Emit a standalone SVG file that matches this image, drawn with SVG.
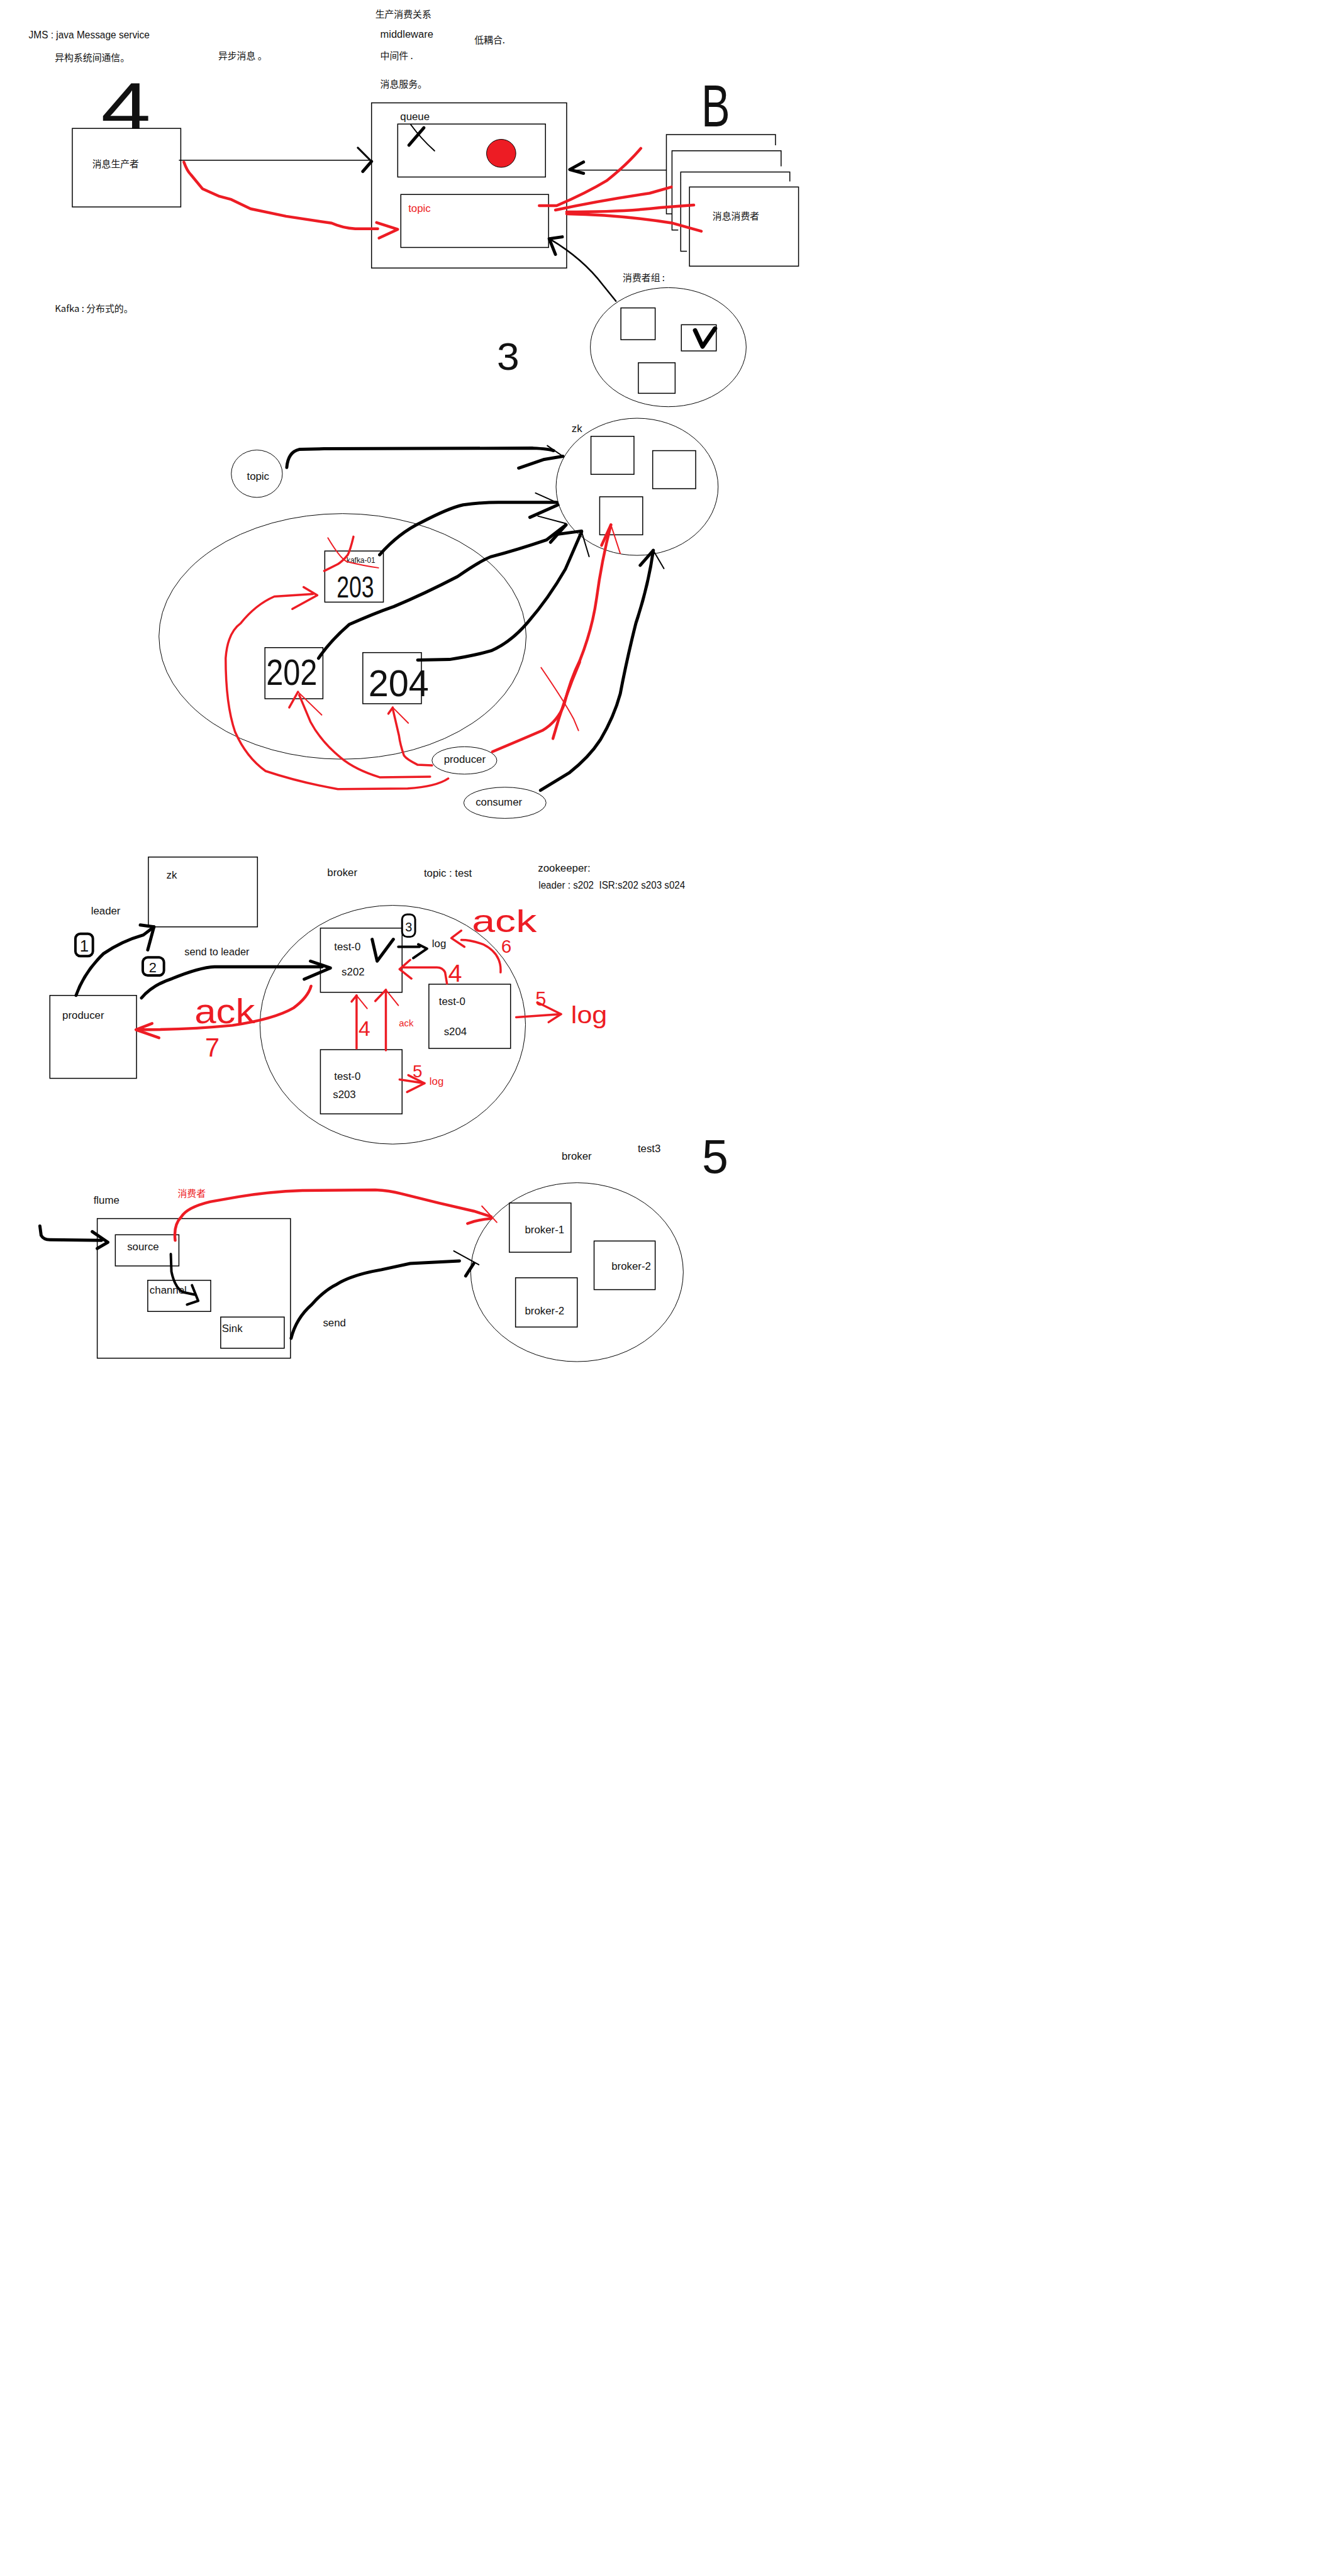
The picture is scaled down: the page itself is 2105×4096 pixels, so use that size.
<svg xmlns="http://www.w3.org/2000/svg" width="2105" height="4096" viewBox="0 0 2105 4096">
<style>
text{font-family:"Liberation Sans","Noto Sans CJK SC",sans-serif;font-size:17px;fill:#111;white-space:pre}
.c{font-family:"Noto Sans CJK SC",sans-serif;font-size:15px}
.r{fill:#ed1c24}
.hw{font-family:"Liberation Sans",sans-serif}
.box{fill:#fff;stroke:#000;stroke-width:1.5}
.nb{fill:none;stroke:#000;stroke-width:1.5}
.el{fill:none;stroke:#000;stroke-width:1}
.bk{fill:none;stroke:#000;stroke-width:5;stroke-linecap:round;stroke-linejoin:round}
.bt{fill:none;stroke:#000;stroke-width:2;stroke-linecap:round;stroke-linejoin:round}
.rd{fill:none;stroke:#ed1c24;stroke-width:4.5;stroke-linecap:round;stroke-linejoin:round}
.rt{fill:none;stroke:#ed1c24;stroke-width:2;stroke-linecap:round;stroke-linejoin:round}
</style>
<rect width="2105" height="4096" fill="#fff"/>
<g transform="scale(0.9911)">
<!-- ============ Section 1 ============ -->
<g id="notes1">
<text x="46" y="62" textLength="194" lengthAdjust="spacingAndGlyphs">JMS : java Message service</text>
<text class="c" x="88" y="98">异构系统间通信。</text>
<text class="c" x="350" y="95">异步消息 。</text>
<text class="c" x="602" y="28">生产消费关系</text>
<text x="610" y="61" textLength="85" lengthAdjust="spacingAndGlyphs">middleware</text>
<text class="c" x="761" y="70">低耦合.</text>
<text class="c" x="610" y="95">中间件 .</text>
<text class="c" x="610" y="140">消息服务。</text>
<text class="c" x="88" y="500">Kafka : 分布式的。</text>
<text class="hw" x="162" y="211" style="font-size:112px" textLength="80" lengthAdjust="spacingAndGlyphs">4</text>
<text class="hw" x="1125" y="203" style="font-size:96px" textLength="46" lengthAdjust="spacingAndGlyphs">B</text>
<text class="hw" x="797" y="593" style="font-size:62px" textLength="36" lengthAdjust="spacingAndGlyphs">3</text>
</g>
<g id="producer1">
<rect class="box" x="116" y="206" width="174" height="126"/>
<text class="c" x="148" y="268">消息生产者</text>
</g>
<g id="middleware">
<rect class="box" x="596" y="165" width="313" height="265"/>
<text x="642" y="193">queue</text>
<rect class="box" x="638" y="199" width="237" height="85"/>
<ellipse cx="804" cy="246" rx="23.5" ry="22.5" fill="#ed1c24" stroke="#000" stroke-width="1"/>
<path class="bk" d="M656,233 L680,205"/>
<path class="bt" d="M659,200 Q675,222 697,242"/>
<rect class="box" x="643" y="312" width="237" height="85"/>
<text class="r" x="655" y="340">topic</text>
</g>
<g id="consumers">
<polyline class="nb" points="1244,233 1244,216 1069,216 1069,343 1078,343"/>
<polyline class="nb" points="1253,267 1253,242 1078,242 1078,369 1088,369"/>
<polyline class="nb" points="1267,291 1267,276 1092,276 1092,403 1102,403"/>
<rect class="box" x="1106" y="300" width="175" height="127"/>
<text class="c" x="1143" y="352">消息消费者</text>
</g>
<g id="consumer-group">
<text class="c" x="999" y="451">消费者组 :</text>
<ellipse class="el" cx="1072" cy="557" rx="125" ry="95.5"/>
<rect class="nb" x="996" y="494" width="55" height="51"/>
<rect class="nb" x="1093" y="521" width="56" height="42"/>
<rect class="nb" x="1024" y="582" width="59" height="49"/>
<path class="bk" style="stroke-width:7" d="M1115,530 L1127,556 L1147,527"/>
</g>
<!-- ============ Section 2 ============ -->
<g id="topic2">
<ellipse class="el" cx="412" cy="760" rx="41" ry="38"/>
<text x="396" y="770">topic</text>
</g>
<g id="kafka-cluster">
<ellipse class="el" cx="549.5" cy="1021" rx="294.5" ry="197"/>
</g>
<g id="k203">
<rect class="nb" x="521" y="884" width="94" height="82"/>
<text class="hw" x="540" y="959" style="font-size:48px" textLength="60" lengthAdjust="spacingAndGlyphs">203</text>
<text x="556" y="903" style="font-size:12px">kafka-01</text>
<path class="rt" d="M526,863 Q545,895 556,901 Q585,908 607,911"/>
<path class="rd" style="stroke-width:3.5" d="M567,861 Q562,882 558,890 Q550,900 542,905 L520,916"/>
</g>
<g id="k202">
<rect class="nb" x="425" y="1039" width="93" height="82"/>
<text class="hw" x="427" y="1099" style="font-size:58px" textLength="82" lengthAdjust="spacingAndGlyphs">202</text>
</g>
<g id="k204">
<rect class="nb" x="582" y="1047" width="94" height="82"/>
<text class="hw" x="591" y="1117" style="font-size:60px" textLength="97" lengthAdjust="spacingAndGlyphs">204</text>
</g>
<g id="zk2">
<ellipse class="el" cx="1022" cy="781" rx="130" ry="110"/>
<text x="917" y="693">zk</text>
<rect class="nb" x="948" y="700" width="69" height="61"/>
<rect class="nb" x="1047" y="723" width="69" height="61"/>
<rect class="nb" x="962" y="797" width="69" height="61"/>
</g>
<g id="producer2">
<ellipse class="el" cx="745" cy="1220" rx="52" ry="22"/>
<text x="712" y="1224">producer</text>
</g>
<g id="consumer2">
<ellipse class="el" cx="810" cy="1288" rx="66" ry="25"/>
<text x="763" y="1293">consumer</text>
</g>
<!-- ============ Section 3 ============ -->
<g id="notes3">
<text x="146" y="1467">leader</text>
<text x="525" y="1406">broker</text>
<text x="680" y="1407" textLength="77" lengthAdjust="spacingAndGlyphs">topic : test</text>
<text x="863" y="1398">zookeeper:</text>
<text x="864" y="1426" textLength="235" lengthAdjust="spacingAndGlyphs">leader : s202  ISR:s202 s203 s024</text>
<text x="296" y="1533" textLength="104" lengthAdjust="spacingAndGlyphs">send to leader</text>
<rect x="121" y="1498" width="28" height="36" rx="8" fill="none" stroke="#000" stroke-width="4"/>
<text class="hw" x="128" y="1527" style="font-size:26px">1</text>
<rect x="229" y="1536" width="34" height="29" rx="8" fill="none" stroke="#000" stroke-width="4"/>
<text class="hw" x="239" y="1560" style="font-size:22px">2</text>
<rect x="645" y="1467" width="21" height="36" rx="8" fill="none" stroke="#000" stroke-width="3"/>
<text class="hw" x="650" y="1494" style="font-size:20px">3</text>
</g>
<g id="zk3">
<rect class="nb" x="238" y="1375" width="175" height="112"/>
<text x="267" y="1410">zk</text>
</g>
<g id="producer3">
<rect class="nb" x="80" y="1597" width="139" height="133"/>
<text x="100" y="1635">producer</text>
</g>
<g id="broker3">
<ellipse class="el" cx="630" cy="1644" rx="213" ry="191.5"/>
</g>
<g id="s202">
<rect class="nb" x="514" y="1489" width="131" height="103"/>
<text x="536" y="1525">test-0</text>
<text x="548" y="1565">s202</text>
<path class="bk" d="M597,1507 L605,1542 L631,1507"/>
<text x="693" y="1520">log</text>
</g>
<g id="s203">
<rect class="nb" x="514" y="1684" width="131" height="103"/>
<text x="536" y="1732">test-0</text>
<text x="534" y="1762">s203</text>
<text class="r" x="689" y="1740">log</text>
</g>
<g id="s204">
<rect class="nb" x="688" y="1579" width="131" height="103"/>
<text x="704" y="1612">test-0</text>
<text x="712" y="1661">s204</text>
</g>
<g id="marks3">
<text class="r" x="640" y="1647" style="font-size:15px">ack</text>
<text class="hw r" x="719" y="1575" style="font-size:40px">4</text>
<text class="hw r" x="575" y="1662" style="font-size:34px">4</text>
<text class="hw r" x="662" y="1728" style="font-size:28px">5</text>
<text class="hw r" x="859" y="1613" style="font-size:31px">5</text>
<text class="hw r" x="916" y="1642" style="font-size:40px" textLength="58" lengthAdjust="spacingAndGlyphs">log</text>
<text class="hw r" x="757" y="1495" style="font-size:50px" textLength="104" lengthAdjust="spacingAndGlyphs">ack</text>
<text class="hw r" x="804" y="1529" style="font-size:30px">6</text>
<text class="hw r" x="312" y="1642" style="font-size:56px" textLength="97" lengthAdjust="spacingAndGlyphs">ack</text>
<text class="hw r" x="329" y="1695" style="font-size:42px">7</text>
</g>
<!-- ============ Section 4 ============ -->
<g id="flume">
<text x="150" y="1931">flume</text>
<text class="c r" x="285" y="1920">消费者</text>
<rect class="nb" x="156" y="1955" width="310" height="224"/>
</g>
<g id="source"><rect class="nb" x="185" y="1981" width="102" height="50"/><text x="204" y="2006">source</text></g>
<g id="channel"><rect class="nb" x="237" y="2054" width="101" height="50"/><text x="240" y="2075">channel</text></g>
<g id="sink"><rect class="nb" x="354" y="2113" width="102" height="50"/><text x="356" y="2137">Sink</text></g>
<g id="notes4">
<text x="518" y="2128">send</text>
<text x="901" y="1861">broker</text>
<text x="1023" y="1848">test3</text>
<text class="hw" x="1126" y="1882" style="font-size:76px">5</text>
</g>
<g id="brokers4">
<ellipse class="el" cx="925.6" cy="2041" rx="170.5" ry="143.5"/>
<rect class="nb" x="817" y="1930" width="99" height="79"/><text x="842" y="1979">broker-1</text>
<rect class="nb" x="953" y="1991" width="98" height="78"/><text x="981" y="2037">broker-2</text>
<rect class="nb" x="827" y="2050" width="99" height="79"/><text x="842" y="2109">broker-2</text>
</g>
<!-- ============ Connectors ============ -->
<g id="connectors">
<!-- section 1 -->
<path class="nb" d="M287,257 L593,257"/>
<path class="bk" style="stroke-width:3" d="M574,237 L595,258"/>
<path class="bk" d="M582,275 L596,259"/>
<path class="rd" d="M295,260 Q300,274 306,280 L325,303 L352,315 L371,320 L402,335 L459,347 L532,358 Q550,366 570,367 L606,367"/>
<path class="rd" d="M604,357 L638,368 L608,382"/>
<path class="nb" d="M1069,273 L914,273"/>
<path class="bk" d="M936,260 L914,272 L936,278"/>
<path class="rd" d="M865,330 L893,330 Q940,310 973,290 Q1005,265 1028,238"/>
<path class="rd" d="M891,337 Q960,322 1042,310 L1077,300"/>
<path class="rd" d="M909,340 Q1000,340 1060,333 L1113,329"/>
<path class="rd" d="M909,343 Q1000,345 1079,358 L1125,371"/>
<path class="bt" style="stroke-width:2.5" d="M883,384 Q935,415 967,457 L988,483"/>
<path class="bk" d="M891,408 L881,383 L902,380"/>
<!-- section 2 -->
<path class="bk" d="M460,750 Q462,725 480,721 L520,720 L855,719 Q880,720 888,723"/>
<path class="bt" d="M878,715 L903,732"/>
<path class="bk" d="M832,751 L873,737 L903,732"/>
<path class="bk" d="M609,890 Q640,855 676,838 Q720,815 743,810 Q780,805 810,806 L893,806"/>
<path class="bt" d="M859,791 L895,807"/>
<path class="bk" d="M850,830 L895,810"/>
<path class="bk" d="M511,1056 Q530,1028 560,1002 Q600,984 632,973 Q680,953 734,925 Q770,900 788,893 Q830,882 877,866 L908,842"/>
<path class="bt" d="M863,828 L908,840"/>
<path class="bk" d="M883,870 L908,842"/>
<path class="bk" d="M670,1059 L721,1058 Q760,1052 788,1044 Q820,1030 847,998 Q880,960 907,913 L933,853"/>
<path class="bk" d="M888,858 L933,852"/>
<path class="bt" d="M945,893 L933,853"/>
<path class="bk" d="M867,1268 Q900,1248 913,1240 Q945,1215 963,1187 Q985,1150 995,1113 Q1005,1060 1020,1000 Q1040,940 1048,883"/>
<path class="bk" d="M1027,907 L1048,883"/>
<path class="bt" d="M1048,883 L1065,912"/>
<path class="rd" d="M790,1206 Q840,1185 870,1172 Q895,1157 905,1130 Q915,1090 930,1060 Q950,1010 957,960 Q965,900 980,842"/>
<path class="rd" d="M965,875 L980,842"/>
<path class="rt" d="M980,842 L995,888"/>
<path class="rt" d="M868,1071 Q905,1125 920,1153 L928,1172"/>
<path class="rd" d="M930,1062 Q905,1120 887,1185"/>
<path class="rd" style="stroke-width:3.5" d="M719,1249 Q700,1262 654,1265 L542,1266 Q480,1255 426,1237 Q395,1215 377,1174 Q362,1130 362,1056 Q365,1015 386,1000 Q410,970 440,957 L502,953"/>
<path class="rd" style="stroke-width:3.5" d="M487,942 L509,955 L469,977"/>
<path class="rd" style="stroke-width:3.5" d="M690,1246 L609,1247 Q570,1235 547,1216 Q515,1190 498,1158 L480,1115"/>
<path class="rd" style="stroke-width:3.5" d="M464,1135 L478,1110"/>
<path class="rt" d="M478,1110 L516,1147"/>
<path class="rd" style="stroke-width:3.5" d="M693,1228 L670,1227 Q652,1218 648,1212 Q642,1195 640,1180 L630,1137"/>
<path class="rd" style="stroke-width:3.5" d="M623,1145 L630,1135"/>
<path class="rt" d="M630,1135 L655,1160"/>
<!-- section 3 -->
<path class="bk" d="M122,1597 Q135,1560 166,1530 Q195,1510 230,1500 L247,1487"/>
<path class="bk" d="M225,1484 L247,1487 L237,1524"/>
<path class="bk" d="M227,1601 Q245,1580 276,1570 Q320,1552 344,1551 L517,1551"/>
<path class="bk" d="M498,1542 L530,1553 L488,1571"/>
<path class="bk" style="stroke-width:4" d="M639,1519 L673,1519"/>
<path class="bk" style="stroke-width:4" d="M671,1515 L685,1522 L663,1537"/>
<path class="rd" style="stroke-width:3.5" d="M717,1578 L714,1560 Q710,1552 701,1552 L645,1552"/>
<path class="rd" style="stroke-width:3.5" d="M658,1540 L641,1555 L660,1570"/>
<path class="rd" style="stroke-width:3.5" d="M572,1682 L572,1597"/>
<path class="rd" style="stroke-width:3.5" d="M564,1607 L572,1597"/>
<path class="rt" d="M572,1597 L589,1618"/>
<path class="rd" style="stroke-width:3.5" d="M619,1685 L619,1588"/>
<path class="rd" style="stroke-width:3.5" d="M602,1606 L619,1588"/>
<path class="rt" d="M619,1588 L639,1613"/>
<path class="rd" style="stroke-width:3.5" d="M641,1732 L681,1738"/>
<path class="rd" style="stroke-width:3.5" d="M655,1725 L681,1738 L653,1752"/>
<path class="rd" style="stroke-width:3.5" d="M828,1632 L900,1627"/>
<path class="rd" style="stroke-width:3.5" d="M862,1608 L900,1627 L880,1640"/>
<path class="rd" style="stroke-width:3.5" d="M803,1560 Q805,1530 775,1515 Q755,1508 740,1508"/>
<path class="rd" style="stroke-width:3.5" d="M740,1493 L724,1505 L745,1519"/>
<path class="rd" d="M499,1582 Q494,1600 471,1617 Q440,1635 373,1645 Q300,1652 224,1652"/>
<path class="rd" d="M244,1642 L218,1652 L255,1665"/>
<!-- section 4 -->
<path class="bk" d="M64,1967 L66,1982 Q70,1989 80,1989 L163,1990"/>
<path class="bk" d="M148,1976 L173,1993 L156,2003"/>
<path class="bk" style="stroke-width:4" d="M274,2012 L275,2040 Q280,2065 293,2073 L312,2077"/>
<path class="bk" style="stroke-width:4" d="M308,2062 L318,2087 L300,2093"/>
<path class="bk" d="M467,2147 Q475,2115 500,2093 Q520,2070 541,2060 Q565,2045 612,2037 L658,2027 L737,2023"/>
<path class="bt" d="M728,2007 L768,2029"/>
<path class="bk" d="M747,2047 L760,2027"/>
<path class="rd" d="M281,1990 Q278,1965 291,1952 Q300,1937 337,1928 L383,1920 Q430,1912 485,1910 L602,1909 Q625,1910 643,1915 L704,1930 L760,1943 L788,1952"/>
<path class="rt" d="M773,1935 L797,1961"/>
<path class="rd" d="M750,1963 Q765,1957 788,1955"/>
</g>
</g>
</svg>
